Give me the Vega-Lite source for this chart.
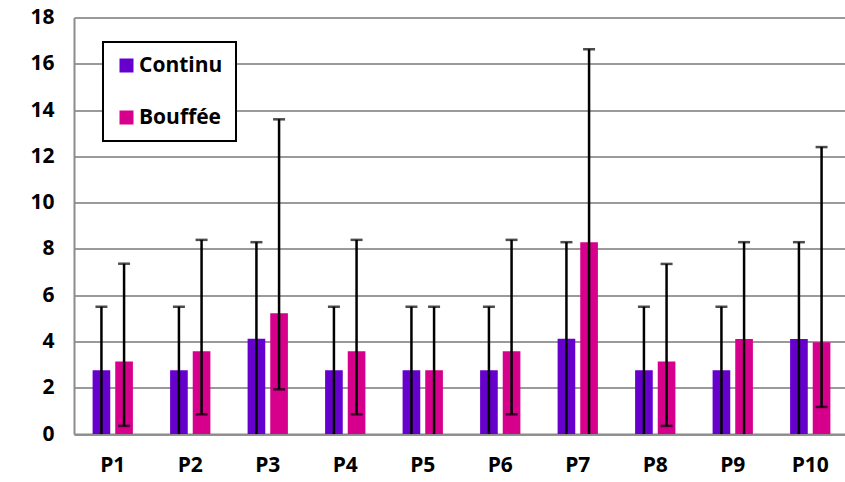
{
  "$schema": "https://vega.github.io/schema/vega-lite/v6.json",
  "width": 771,
  "height": 416.5,
  "autosize": "none",
  "padding": {"left": 74, "top": 17.5, "right": 0, "bottom": 48},
  "background": "white",
  "data": {
    "values": [
      {"p": "P1", "serie": "Continu", "v": 2.75, "lo": 0, "hi": 5.5},
      {"p": "P1", "serie": "Bouffée", "v": 3.13, "lo": 0.35, "hi": 7.36},
      {"p": "P2", "serie": "Continu", "v": 2.75, "lo": 0, "hi": 5.5},
      {"p": "P2", "serie": "Bouffée", "v": 3.58, "lo": 0.85, "hi": 8.39},
      {"p": "P3", "serie": "Continu", "v": 4.12, "lo": 0, "hi": 8.29},
      {"p": "P3", "serie": "Bouffée", "v": 5.22, "lo": 1.93, "hi": 13.6},
      {"p": "P4", "serie": "Continu", "v": 2.75, "lo": 0, "hi": 5.5},
      {"p": "P4", "serie": "Bouffée", "v": 3.58, "lo": 0.85, "hi": 8.39},
      {"p": "P5", "serie": "Continu", "v": 2.75, "lo": 0, "hi": 5.5},
      {"p": "P5", "serie": "Bouffée", "v": 2.75, "lo": 0, "hi": 5.5},
      {"p": "P6", "serie": "Continu", "v": 2.75, "lo": 0, "hi": 5.5},
      {"p": "P6", "serie": "Bouffée", "v": 3.58, "lo": 0.85, "hi": 8.39},
      {"p": "P7", "serie": "Continu", "v": 4.12, "lo": 0, "hi": 8.29},
      {"p": "P7", "serie": "Bouffée", "v": 8.29, "lo": 0, "hi": 16.63},
      {"p": "P8", "serie": "Continu", "v": 2.75, "lo": 0, "hi": 5.5},
      {"p": "P8", "serie": "Bouffée", "v": 3.13, "lo": 0.35, "hi": 7.35},
      {"p": "P9", "serie": "Continu", "v": 2.75, "lo": 0, "hi": 5.5},
      {"p": "P9", "serie": "Bouffée", "v": 4.11, "lo": 0, "hi": 8.29},
      {"p": "P10", "serie": "Continu", "v": 4.11, "lo": 0, "hi": 8.29},
      {"p": "P10", "serie": "Bouffée", "v": 3.96, "lo": 1.17, "hi": 12.4}
    ]
  },
  "encoding": {
    "x": {
      "field": "p", "type": "nominal",
      "sort": ["P1","P2","P3","P4","P5","P6","P7","P8","P9","P10"],
      "scale": {"paddingInner": 0.48, "paddingOuter": 0.24, "range": [0, 775]},
      "axis": {"title": null, "labelAngle": 0, "ticks": false, "labelPadding": 20, "domainColor": "#8c8c8c", "domainWidth": 2, "grid": false}
    },
    "xOffset": {
      "field": "serie", "type": "nominal",
      "sort": ["Continu", "Bouffée"],
      "scale": {"paddingInner": 0.22, "paddingOuter": 0}
    }
  },
  "layer": [
    {
      "mark": {"type": "bar"},
      "encoding": {
        "y": {
          "field": "v", "type": "quantitative",
          "scale": {"domain": [0, 18], "nice": false},
          "axis": {"title": null, "values": [0,2,4,6,8,10,12,14,16,18], "ticks": false, "labelPadding": 20, "domainColor": "#8c8c8c", "domainWidth": 2, "gridColor": "#9a9a9a", "gridWidth": 2}
        },
        "color": {
          "field": "serie", "type": "nominal",
          "sort": ["Continu", "Bouffée"],
          "scale": {"domain": ["Continu", "Bouffée"], "range": ["#6600CC", "#D6008C"]},
          "legend": {
            "title": null, "orient": "none", "legendX": 29, "legendY": 24.5,
            "symbolType": "square", "symbolSize": 196, "symbolStrokeWidth": 0,
            "labelFont": "Open Sans", "labelFontWeight": "bold", "labelFontSize": 21,
            "labelColor": "black", "labelOffset": 2,
            "padding": 13, "rowPadding": 30,
            "strokeColor": "black", "fillColor": "white"
          }
        }
      }
    },
    {
      "mark": {"type": "rule", "color": "black", "strokeWidth": 2.5},
      "encoding": {
        "y": {"field": "lo", "type": "quantitative"},
        "y2": {"field": "hi"}
      }
    },
    {
      "mark": {"type": "tick", "color": "black", "size": 12, "thickness": 2.5},
      "encoding": {
        "y": {"field": "hi", "type": "quantitative"}
      }
    },
    {
      "transform": [{"filter": "datum.lo > 0"}],
      "mark": {"type": "tick", "color": "black", "size": 12, "thickness": 2.5},
      "encoding": {
        "y": {"field": "lo", "type": "quantitative"}
      }
    }
  ],
  "config": {
    "view": {"stroke": null},
    "legend": {"strokeWidth": 2},
    "axis": {"labelFont": "Open Sans", "labelFontWeight": "bold", "labelFontSize": 21, "labelColor": "black"}
  }
}
